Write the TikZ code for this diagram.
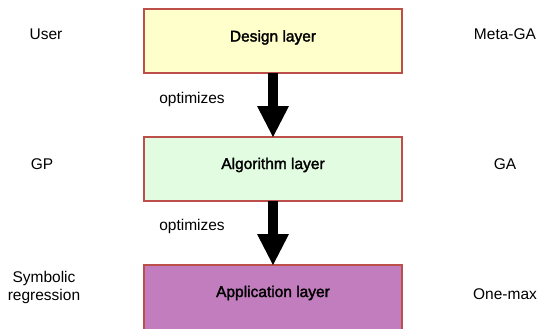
\documentclass[tikz,border=0pt]{standalone}
\usepackage{fontspec}
\setmainfont{Liberation Sans}
\newfontfamily\layerfont[FakeBold=2]{Liberation Sans}
\usetikzlibrary{
	arrows.meta,
	positioning,
}
\definecolor{layerborder}{HTML}{BD4F4B}
\definecolor{designfill}{HTML}{FFFFCC}
\definecolor{algofill}{HTML}{E2FCE2}
\definecolor{appfill}{HTML}{C17DBD}
\newcommand{\lift}[2]{\raisebox{#1}[\height][\depth]{#2}}
\tikzset{layer/.style={
		% The shape:
		rectangle,
		% The size:
		minimum width=258pt,minimum height=64pt,
		inner sep=0pt,outer sep=0pt,
		% The border:
		line width=2.8pt,
		draw=layerborder,
		% The text:
		font=\layerfont\fontsize{15.5}{18}\selectfont,
}}
\tikzset{sidelabel/.style={
		font=\fontsize{15.5}{18}\selectfont,
		align=center,inner sep=0pt,
}}
\tikzset{optimizes/.style={
		% a thick black block arrow
		line width=10pt,
		-{Triangle[width=32pt,length=31pt,line width=0pt]},
}}

\begin{document}
\begin{tikzpicture}[x=1pt,y=-1pt]
	\useasboundingbox (0,0) rectangle (541,329);
	% the three layers
	\node [layer,fill=designfill] (design) at (273,41) {\lift{3.5pt}{Design layer}};
	\node [layer,fill=algofill,below=64pt of design] (algorithm) {\lift{4pt}{Algorithm layer}};
	\node [layer,fill=appfill,minimum height=70pt,below=64pt of algorithm] (application) {\lift{7pt}{Application layer}};
	% arrows between layers
	\draw [optimizes] (design) -- (algorithm);
	\draw [optimizes] (algorithm) -- (application);
	\node [sidelabel] (opt1) at (192,99) {optimizes};
	\node [sidelabel] (opt2) at (192,226) {optimizes};
	% left column
	\node [sidelabel] (user) at (46,34) {User};
	\node [sidelabel] (gp) at (42,164) {GP};
	\node [sidelabel] (symreg) at (44,287) {Symbolic\\regression};
	% right column
	\node [sidelabel] (metaga) at (505,34) {Meta-GA};
	\node [sidelabel] (ga) at (505,164) {GA};
	\node [sidelabel] (onemax) at (505,294) {One-max};
\end{tikzpicture}
\end{document}
